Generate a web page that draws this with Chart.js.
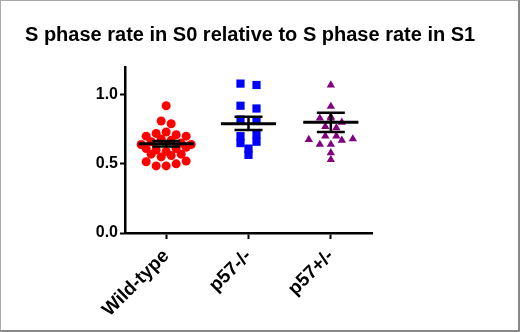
<!DOCTYPE html>
<html>
<head>
<meta charset="utf-8">
<script src="https://cdn.jsdelivr.net/npm/chart.js@4.4.1/dist/chart.umd.min.js"></script>
<style>
  html, body { margin: 0; padding: 0; background: #fff; }
  #frame {
    width: 520px; height: 332px; box-sizing: border-box;
    border-left: 1px solid #aaa; border-top: 1px solid #aaa;
    border-right: 2px solid #888; border-bottom: 2px solid #888;
    position: relative;
  }
  #wrap { position: absolute; left: 0; top: 0; right: 0; bottom: 0; }
</style>
</head>
<body>
<div id="frame"><div id="wrap"><canvas id="chart"></canvas></div></div>
<script>
// data
const groups = ['Wild-type', 'p57-/-', 'p57+/-'];
const wildType = [0.92, 0.81, 0.79, 0.73, 0.72, 0.71, 0.70, 0.70, 0.68, 0.67, 0.66, 0.65, 0.64, 0.64,
                  0.62, 0.61, 0.61, 0.60, 0.59, 0.57, 0.57, 0.56, 0.55, 0.52, 0.515, 0.50, 0.485, 0.485];
const p57KO = [1.08, 1.07, 0.92, 0.90, 0.82, 0.81, 0.71, 0.70, 0.66, 0.65, 0.61, 0.565];
const p57Het = [1.07, 0.915, 0.84, 0.83, 0.83, 0.80, 0.77, 0.76, 0.70, 0.70, 0.68, 0.675, 0.67, 0.64, 0.64, 0.58, 0.53];
// centre line and whiskers per group
const centre = [0.645, 0.79, 0.80];
const whiskerLow = [0.625, 0.745, 0.73];
const whiskerHigh = [0.665, 0.84, 0.87];
const yTicks = [0, 0.5, 1.0];

const colors = ['#ff0000', '#0000ff', '#800080'];
const shapes = ['circle', 'rect', 'triangle'];
const radii = [4.5, 5.8, 4.8];
const spacing = [10, 16, 11];

// column scatter: bin values into rows, spread each row sideways (px per unit approx)
const X_PX = 82.3, Y_PX = 138, ROW = 7;
function swarm(values, gi) {
  const sorted = values.slice().sort((a, b) => a - b);
  const mid = sorted[Math.floor(sorted.length / 2)];
  const rows = {};
  values.forEach((v, i) => {
    const k = Math.round(v * Y_PX / ROW);
    (rows[k] = rows[k] || []).push(i);
  });
  const out = new Array(values.length);
  Object.values(rows).forEach(idx => {
    const n = idx.length;
    const slots = idx.map((_, j) => (j - (n - 1) / 2) * spacing[gi])
      .sort((a, b) => Math.abs(a) - Math.abs(b) || a - b);
    idx.sort((a, b) => Math.abs(values[b] - mid) - Math.abs(values[a] - mid));
    idx.forEach((i, j) => { out[i] = { x: gi + slots[j] / X_PX, y: values[i] }; });
  });
  return out;
}

const series = [wildType, p57KO, p57Het];

const errorBars = {
  id: 'errorBars',
  afterDatasetsDraw(chart) {
    const xs = chart.scales.x, ys = chart.scales.y;
    const ctx = chart.ctx;
    ctx.save();
    ctx.strokeStyle = '#000';
    groups.forEach((g, i) => {
      const cx = xs.getPixelForValue(i);
      const yc = ys.getPixelForValue(centre[i]);
      const yl = ys.getPixelForValue(whiskerLow[i]);
      const yh = ys.getPixelForValue(whiskerHigh[i]);
      const half = xs.getPixelForValue(i + 0.335) - cx;
      const cap = xs.getPixelForValue(i + 0.17) - cx;
      ctx.lineWidth = 3;
      ctx.beginPath();
      ctx.moveTo(cx - half, yc); ctx.lineTo(cx + half, yc);
      ctx.stroke();
      ctx.lineWidth = 2.5;
      ctx.beginPath();
      ctx.moveTo(cx, yl); ctx.lineTo(cx, yh);
      ctx.moveTo(cx - cap, yl); ctx.lineTo(cx + cap, yl);
      ctx.moveTo(cx - cap, yh); ctx.lineTo(cx + cap, yh);
      ctx.stroke();
    });
    ctx.restore();
  }
};

Chart.defaults.font.family = '"Liberation Sans", Arial, sans-serif';
Chart.defaults.color = '#000';

new Chart(document.getElementById('chart').getContext('2d'), {
  type: 'scatter',
  data: {
    datasets: series.map((vals, i) => ({
      label: groups[i],
      data: swarm(vals, i),
      backgroundColor: colors[i],
      borderColor: colors[i],
      borderWidth: 0,
      pointStyle: shapes[i],
      pointRadius: radii[i],
      pointHoverRadius: radii[i]
    }))
  },
  options: {
    responsive: true,
    maintainAspectRatio: false,
    animation: false,
    layout: { padding: { left: 24, right: 0, top: 0, bottom: 0 } },
    plugins: {
      legend: { display: false },
      tooltip: { enabled: false },
      title: {
        display: true,
        text: 'S phase rate in S0 relative to S phase rate in S1',
        align: 'start',
        color: '#000',
        font: { size: 20, weight: 'bold' },
        padding: { top: 22, bottom: 20 }
      }
    },
    scales: {
      x: {
        type: 'linear',
        min: -0.5,
        max: 2.5,
        afterFit: s => { s.height = 97; },
        afterBuildTicks: s => { s.ticks = groups.map((g, i) => ({ value: i })); },
        border: { display: true, color: '#000', width: 2.5 },
        grid: { display: true, drawOnChartArea: false, color: '#000', tickLength: 6, tickWidth: 2 },
        ticks: {
          minRotation: 45,
          maxRotation: 45,
          padding: 6,
          font: { size: 19, weight: 'bold' },
          callback: v => groups[v]
        }
      },
      y: {
        min: 0,
        max: 1.2,
        afterFit: s => { s.width = 100; },
        afterBuildTicks: s => { s.ticks = yTicks.map(v => ({ value: v })); },
        border: { display: true, color: '#000', width: 2.5 },
        grid: { display: true, drawOnChartArea: false, color: '#000', tickLength: 5, tickWidth: 2 },
        ticks: {
          padding: 2,
          font: { size: 16, weight: 'bold' },
          callback: v => v.toFixed(1)
        }
      },
      // empty right-hand margin so the plot ends where the original does
      spacer: {
        type: 'linear',
        position: 'right',
        afterFit: s => { s.width = 146; },
        border: { display: false },
        grid: { display: false },
        ticks: { display: false }
      }
    }
  },
  plugins: [errorBars]
});
</script>
</body>
</html>
